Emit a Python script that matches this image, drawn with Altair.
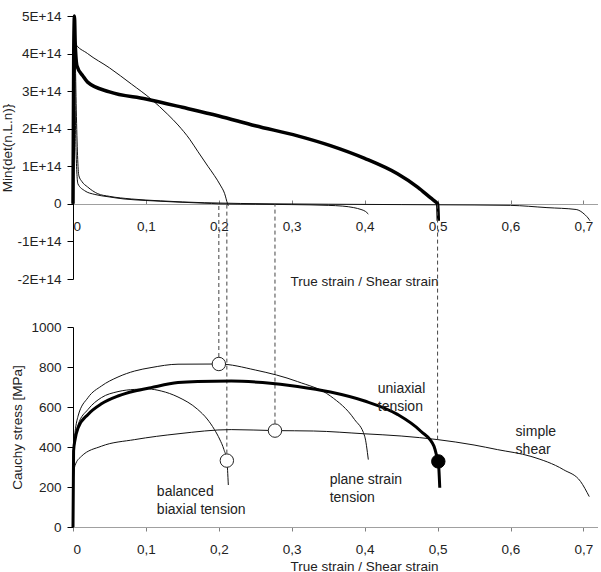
import altair as alt
import pandas as pd

# ---------------- data ----------------
X_TICKS = [0, 0.1, 0.2, 0.3, 0.4, 0.5, 0.6, 0.7]
TOP_TICKS = [-2, -1, 0, 1, 2, 3, 4, 5]          # in units of 1E+14
BOT_TICKS = [0, 200, 400, 600, 800, 1000]

# Top panel: Min{det(n.L.n)}, values in units of 1E+14
det_uni_x = [0, 0.001, 0.002, 0.003, 0.0055, 0.0137, 0.02, 0.05, 0.1, 0.15, 0.2, 0.25, 0.308,
             0.353, 0.4, 0.445, 0.473, 0.491, 0.498, 0.5, 0.501]
det_uni_y = [0, 4.0, 5.0, 4.3, 3.67, 3.4, 3.24, 2.98, 2.79, 2.57, 2.34, 2.08, 1.81,
             1.55, 1.21, 0.8, 0.44, 0.15, 0.04, 0, -0.45]

det_bi_x = [0, 0.001, 0.002, 0.02, 0.05, 0.08, 0.107, 0.13, 0.144, 0.16, 0.171, 0.185, 0.194,
            0.202, 0.208, 0.212, 0.213]
det_bi_y = [0, 4.5, 4.3, 4.0, 3.62, 3.19, 2.79, 2.38, 2.1, 1.72, 1.4, 1.0, 0.75,
            0.5, 0.27, 0, -0.05]

det_ps_x = [0, 0.001, 0.004, 0.0068, 0.016, 0.03, 0.048, 0.07, 0.1, 0.14, 0.19, 0.2, 0.25,
            0.3, 0.35, 0.37, 0.385, 0.395, 0.401, 0.405]
det_ps_y = [0, 5.0, 1.5, 0.53, 0.35, 0.25, 0.19, 0.13, 0.09, 0.05, 0.01, 0, -0.01,
            -0.02, -0.04, -0.06, -0.1, -0.15, -0.2, -0.27]

det_sh_x = [0, 0.001, 0.003, 0.0045, 0.008, 0.012, 0.02, 0.034, 0.05, 0.08, 0.12, 0.18, 0.23,
            0.277, 0.35, 0.45, 0.55, 0.6, 0.65, 0.69, 0.701, 0.708, 0.709]
det_sh_y = [0, 5.0, 4.0, 2.5, 0.75, 0.6, 0.45, 0.27, 0.2, 0.13, 0.08, 0.03, 0.01,
            0, -0.01, -0.02, -0.03, -0.04, -0.1, -0.15, -0.27, -0.42, -0.45]

# Bottom panel: Cauchy stress [MPa]
st_uni_x = [0, 0.0008, 0.003, 0.0069, 0.0206, 0.039, 0.0617, 0.0846, 0.107, 0.144, 0.171, 0.217,
            0.26, 0.308, 0.353, 0.4, 0.445, 0.477, 0.495, 0.499, 0.501, 0.503]
st_uni_y = [0, 380, 440, 495, 563, 616, 655, 680, 697, 722, 728, 730,
            722, 703, 675, 630, 563, 479, 404, 353, 328, 196]

st_ps_x = [0, 0.0008, 0.003, 0.0069, 0.0206, 0.039, 0.0617, 0.0846, 0.107, 0.144, 0.2, 0.25,
           0.308, 0.353, 0.386, 0.4, 0.405]
st_ps_y = [0, 400, 480, 554, 647, 705, 750, 780, 797, 814, 815, 785,
           727, 655, 538, 454, 337]

st_bi_x = [0, 0.0008, 0.003, 0.0069, 0.0206, 0.039, 0.0617, 0.0846, 0.103, 0.121, 0.144, 0.171,
           0.184, 0.194, 0.201, 0.207, 0.211, 0.213]
st_bi_y = [0, 390, 450, 510, 588, 647, 677, 688, 690, 680, 650, 588,
           540, 487, 440, 387, 332, 210]

st_sh_x = [0, 0.0007, 0.003, 0.0114, 0.039, 0.0846, 0.144, 0.217, 0.277, 0.33, 0.4, 0.45, 0.5,
           0.55, 0.582, 0.628, 0.673, 0.696, 0.708]
st_sh_y = [0, 250, 310, 353, 404, 437, 466, 487, 482, 480, 466, 455, 437,
           410, 387, 353, 286, 228, 152]

# instability points
open_x = [0.2, 0.211, 0.277]
open_y = [815, 332, 482]
filled_x = [0.501]
filled_y = [328]

# dashed connectors (strain, lower end stress)
dash_x = [0.2, 0.211, 0.277, 0.5]
dash_y = [815, 332, 482, 437]

labels = ["balanced\nbiaxial tension", "plane strain\ntension", "uniaxial\ntension", "simple\nshear"]
label_x = [0.115, 0.352, 0.418, 0.607]
label_y = [176, 236, 688, 477]

# ---------------- tables ----------------
def curves(pairs):
    rows = []
    for name, xs, ys in pairs:
        for i, (a, b) in enumerate(zip(xs, ys)):
            rows.append({"curve": name, "i": i, "s": a, "v": b})
    return pd.DataFrame(rows)

top_thin = curves([("bi", det_bi_x, det_bi_y), ("ps", det_ps_x, det_ps_y), ("sh", det_sh_x, det_sh_y)])
top_thick = curves([("uni", det_uni_x, det_uni_y)])
bot_thin = curves([("bi", st_bi_x, st_bi_y), ("ps", st_ps_x, st_ps_y), ("sh", st_sh_x, st_sh_y)])
bot_thick = curves([("uni", st_uni_x, st_uni_y)])
open_df = pd.DataFrame({"s": open_x, "v": open_y})
filled_df = pd.DataFrame({"s": filled_x, "v": filled_y})
dash_df = pd.DataFrame({"s": dash_x, "v": dash_y})
lab_df = pd.DataFrame({"s": label_x, "v": label_y, "t": labels})

FONT = "Liberation Sans"
TXT = "#222222"
W = 525
H_TOP = 263
H_BOT = 200
GAP = 48

xscale = alt.Scale(domain=[0, 0.72], nice=False, zero=False)
x_label_expr = "datum.value == 0 ? '0' : replace(format(datum.value, '.1f'), '.', ',')"

# ---------------- top panel ----------------
ytop = alt.Y("v:Q", scale=alt.Scale(domain=[-2, 5], nice=False),
             axis=alt.Axis(values=TOP_TICKS, grid=False, title="Min{det(n.L.n)}",
                           labelExpr="datum.value == 0 ? '0' : datum.value + 'E+14'",
                           domainColor="black", tickColor="black", tickSize=6,
                           labelPadding=6, titlePadding=3))

x_top_labels = alt.X("s:Q", scale=xscale,
                     axis=alt.Axis(orient="bottom", offset=-75, domain=False, ticks=False,
                                   values=X_TICKS, labelExpr=x_label_expr, labelPadding=15,
                                   grid=False, title="True strain / Shear strain",
                                   titleX=291, titleY=77, titleAlign="center",
                                   titleBaseline="middle", titleAngle=0))
x_top_line = alt.X("s:Q", scale=xscale,
                   axis=alt.Axis(orient="top", offset=-188, labels=False, title=None,
                                 values=X_TICKS, grid=False, domainColor="#a0a0a0",
                                 tickColor="#808080", tickSize=4))
x_none = alt.X("s:Q", scale=xscale, axis=None)

top_axis_layer = alt.Chart(top_thin).mark_line(opacity=0).encode(x=x_top_line, y=ytop, detail="curve:N", order="i:Q")
top_thin_layer = alt.Chart(top_thin).mark_line(color="#111111", strokeWidth=1, interpolate="monotone").encode(
    x=x_top_labels, y=ytop, detail="curve:N", order="i:Q")
top_thick_layer = alt.Chart(top_thick).mark_line(color="black", strokeWidth=3.5, interpolate="monotone").encode(
    x=x_none, y=ytop, order="i:Q")

top = alt.layer(top_axis_layer, top_thin_layer, top_thick_layer).resolve_axis(x="independent").properties(
    width=W, height=H_TOP)

# ---------------- bottom panel ----------------
ybot = alt.Y("v:Q", scale=alt.Scale(domain=[0, 1000], nice=False),
             axis=alt.Axis(values=BOT_TICKS, grid=False, title="Cauchy stress [MPa]",
                           labelExpr="'' + datum.value",
                           domainColor="black", tickColor="black", tickSize=6,
                           labelPadding=6, titlePadding=6))
x_bot = alt.X("s:Q", scale=xscale,
              axis=alt.Axis(values=X_TICKS, labelExpr=x_label_expr, grid=False,
                            domainColor="#a0a0a0", tickColor="#808080", tickSize=4,
                            labelPadding=11, title="True strain / Shear strain",
                            titleX=291, titleY=39, titleAlign="center", titleBaseline="middle"))

dash_layer = alt.Chart(dash_df).mark_rule(color="#444444", strokeWidth=1, strokeDash=[4, 3]).encode(
    x=x_bot, y=ybot, y2=alt.value(-(GAP + 75)))
bot_thin_layer = alt.Chart(bot_thin).mark_line(color="#111111", strokeWidth=1, interpolate="monotone").encode(
    x=x_bot, y=ybot, detail="curve:N", order="i:Q")
bot_thick_layer = alt.Chart(bot_thick).mark_line(color="black", strokeWidth=3, interpolate="monotone").encode(
    x=x_bot, y=ybot, order="i:Q")
open_layer = alt.Chart(open_df).mark_point(shape="circle", filled=True, fill="white", stroke="#222222",
                                           strokeWidth=1, size=180, opacity=1).encode(x=x_bot, y=ybot)
filled_layer = alt.Chart(filled_df).mark_point(shape="circle", filled=True, fill="black", stroke="black",
                                               strokeWidth=1, size=180, opacity=1).encode(x=x_bot, y=ybot)
label_layer = alt.Chart(lab_df).mark_text(align="left", baseline="middle", lineBreak="\n", lineHeight=18,
                                          fontSize=14, font=FONT, color=TXT).encode(
    x=x_bot, y=ybot, text="t:N")

bottom = alt.layer(dash_layer, bot_thin_layer, bot_thick_layer, open_layer, filled_layer, label_layer).properties(
    width=W, height=H_BOT)

chart = alt.vconcat(top, bottom, spacing=GAP, bounds="flush").properties(
    padding={"left": 0, "top": 9, "right": 0, "bottom": 0},
    background="white"
).configure_view(stroke=None).configure_axis(
    labelFont=FONT, titleFont=FONT, labelFontSize=13.5, titleFontSize=13.5,
    labelColor=TXT, titleColor=TXT, titleFontWeight="normal", domainWidth=1, tickWidth=1
)

chart.save("out.html", embed_options={"renderer": "svg", "actions": False})
